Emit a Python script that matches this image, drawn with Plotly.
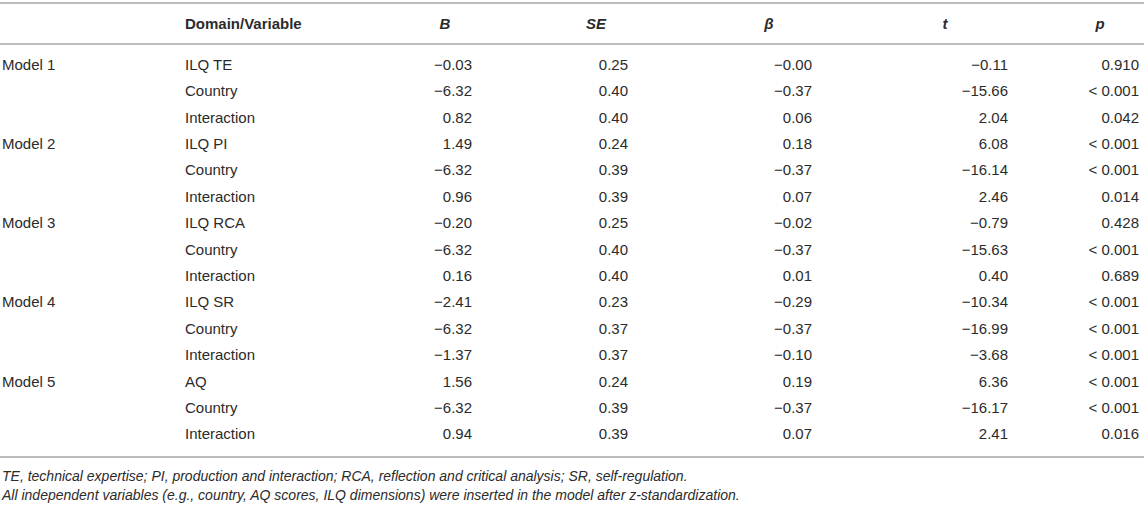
import plotly.graph_objects as go

# table content
models = ["Model 1", "Model 2", "Model 3", "Model 4", "Model 5"]
variables = ["ILQ TE", "Country", "Interaction",
             "ILQ PI", "Country", "Interaction",
             "ILQ RCA", "Country", "Interaction",
             "ILQ SR", "Country", "Interaction",
             "AQ", "Country", "Interaction"]
b_vals = [-0.03, -6.32, 0.82, 1.49, -6.32, 0.96, -0.20, -6.32, 0.16,
          -2.41, -6.32, -1.37, 1.56, -6.32, 0.94]
se_vals = [0.25, 0.40, 0.40, 0.24, 0.39, 0.39, 0.25, 0.40, 0.40,
           0.23, 0.37, 0.37, 0.24, 0.39, 0.39]
beta_vals = [-0.00, -0.37, 0.06, 0.18, -0.37, 0.07, -0.02, -0.37, 0.01,
             -0.29, -0.37, -0.10, 0.19, -0.37, 0.07]
t_vals = [-0.11, -15.66, 2.04, 6.08, -16.14, 2.46, -0.79, -15.63, 0.40,
          -10.34, -16.99, -3.68, 6.36, -16.17, 2.41]
p_vals = ["0.910", "< 0.001", "0.042", "< 0.001", "< 0.001", "0.014",
          "0.428", "< 0.001", "0.689", "< 0.001", "< 0.001", "< 0.001",
          "< 0.001", "< 0.001", "0.016"]
headers = ["Domain/Variable", "B", "SE", "β", "t", "p"]
notes = ["TE, technical expertise; PI, production and interaction; RCA, reflection and "
         "critical analysis; SR, self-regulation.",
         "All independent variables (e.g., country, AQ scores, ILQ dimensions) were "
         "inserted in the model after z-standardization."]

# layout (pixel space)
W, H = 1144, 505
ROW0, ROW_H = 66, 26.4
HEAD_Y = 25
LINES_Y = [3, 44, 457]
NOTE_Y = [477, 496]
MODEL_X, VAR_X = 2, 185
NUM_RIGHT = [472, 628, 812, 1008, 1139]
HEAD_X = [445, 596, 769, 945, 1100]
TXT = "#2b2b2b"
FONT = "Liberation Sans, Arial, Helvetica, sans-serif"
FS = 15


def fmt(v):
    return "{:.2f}".format(v).replace("-", "\u2212")


rows_y = [ROW0 + ROW_H * i for i in range(len(variables))]

fig = go.Figure()

# header
fig.add_trace(go.Scatter(
    x=[VAR_X], y=[HEAD_Y], mode="text", text=["<b>" + headers[0] + "</b>"],
    textposition="middle right", textfont=dict(family=FONT, size=FS, color=TXT),
    hoverinfo="skip"))
fig.add_trace(go.Scatter(
    x=HEAD_X, y=[HEAD_Y] * len(HEAD_X), mode="text",
    text=["<b><i>" + h + "</i></b>" for h in headers[1:]],
    textposition="middle center", textfont=dict(family=FONT, size=FS, color=TXT),
    hoverinfo="skip"))

# model labels, one per block of three rows
fig.add_trace(go.Scatter(
    x=[MODEL_X] * len(models), y=rows_y[::3], mode="text", text=models,
    textposition="middle right", textfont=dict(family=FONT, size=FS, color=TXT),
    hoverinfo="skip"))

# variable names
fig.add_trace(go.Scatter(
    x=[VAR_X] * len(variables), y=rows_y, mode="text", text=variables,
    textposition="middle right", textfont=dict(family=FONT, size=FS, color=TXT),
    hoverinfo="skip"))

# numeric columns, right aligned
cols = [[fmt(v) for v in b_vals], [fmt(v) for v in se_vals],
        [fmt(v) for v in beta_vals], [fmt(v) for v in t_vals], p_vals]
for xr, col in zip(NUM_RIGHT, cols):
    fig.add_trace(go.Scatter(
        x=[xr] * len(col), y=rows_y, mode="text", text=col,
        textposition="middle left", textfont=dict(family=FONT, size=FS, color=TXT),
        hoverinfo="skip"))

# footnotes
fig.add_trace(go.Scatter(
    x=[MODEL_X] * len(notes), y=NOTE_Y, mode="text",
    text=["<i>" + n + "</i>" for n in notes],
    textposition="middle right", textfont=dict(family=FONT, size=14, color=TXT),
    hoverinfo="skip"))

for ly in LINES_Y:
    fig.add_shape(type="line", xref="x", yref="y", x0=0, x1=W, y0=ly, y1=ly,
                  line=dict(color="#bdbdbd", width=2))

fig.update_layout(
    width=W, height=H, margin=dict(l=0, r=0, t=0, b=0),
    paper_bgcolor="white", plot_bgcolor="white", showlegend=False,
    xaxis=dict(range=[0, W], visible=False, fixedrange=True),
    yaxis=dict(range=[H, 0], visible=False, fixedrange=True),
)

# page margin would push the table 8px down and right
fig.write_html("out.html", config={"displayModeBar": False},
               post_script="document.body.style.margin='0';")
